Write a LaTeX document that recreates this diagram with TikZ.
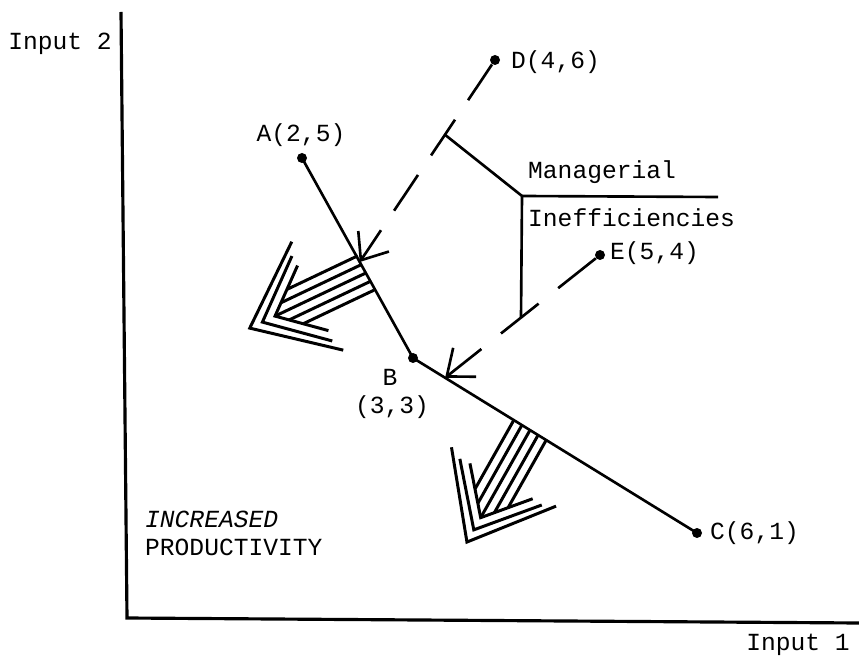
\documentclass[tikz,border=0pt]{standalone}
\usepackage{fontspec}
\setmainfont{Liberation Mono}
\usetikzlibrary{arrows.meta, calc}

\begin{document}
\begin{tikzpicture}[
    every node/.style={font=\fontsize{14}{16}\selectfont},
    axis/.style={line width=1.8pt},
    curve/.style={line width=1.5pt},
    dot/.style={circle, fill, inner sep=0pt, minimum size=0.2cm},
    ineff/.style={line width=1.5pt, -{Straight Barb[length=13pt, width=21pt]}},
]
% Canvas: x in [0, 17.18], y in [0, 13.16]
\useasboundingbox (0,0) rectangle (17.18,13.16);

% --- Axes ---
\draw[axis] (2.42,12.92) -- (2.54,0.80) -- (17.18,0.70);
\node (in2) at (1.20,12.28) {Input 2};
\node (in1) at (15.96,0.26) {Input 1};

% --- Firms ---
\node[dot] (A) at (6.04,10.00) {};
\node[dot] (B) at (8.26,6.00) {};
\node[dot] (C) at (13.94,2.50) {};
\node[dot] (D) at (9.90,11.96) {};
\node[dot] (E) at (12.00,8.06) {};

\node (labA) at (6.02,10.46) {A(2,5)};
\node (labB) at (7.80,5.62) {B};
\node (labB2) at (7.84,5.02) {(3,3)};
\node[anchor=west] (labC) at (14.08,2.50) {C(6,1)};
\node[anchor=west] (labD) at (10.10,11.92) {D(4,6)};
\node[anchor=west] (labE) at (12.08,8.10) {E(5,4)};

% --- Frontier ---
\draw[curve] (A.center) -- (B.center) -- (C.center);

% --- Inefficient firms projected onto the frontier ---
\coordinate (tD) at ($(A)!0.52!(B)$);
\coordinate (tE) at ($(B)!0.113!(C)$);
\draw[ineff, dash pattern=on 0.86cm off 0.47cm] (D) -- (tD);
\draw[ineff, dash pattern=on 0.96cm off 0.50cm] (E) -- (tE);

% --- Bracket + label ---
\coordinate (bD) at ($(D)!0.37!(tD)$);
\coordinate (bE) at ($(E)!0.51!(tE)$);
\coordinate (mJ) at (10.44,9.24);
\coordinate (mR) at (14.36,9.22);
\draw[curve] (bD) -- (mJ) -- (bE);
\draw[curve] (mJ) -- (mR);
\node[anchor=west] (mgr) at (10.44,9.72) {Managerial};
\node[anchor=west] (ineffl) at (10.44,8.80) {Inefficiencies};

% --- Hatched arrows (productivity gain) ---
\coordinate (hA) at ($(A)!0.575!(B)$);
\coordinate (hB) at ($(B)!0.412!(C)$);
\foreach \base/\ang in {hA/205.4, hB/240.6} {
    \begin{scope}[shift={(\base)}, rotate=\ang, line width=1.7pt]
        \foreach \o in {-0.38,-0.19,0,0.19,0.38}
            \draw (0,\o) -- ({2.01-1.17*abs(\o)},\o);
        \foreach \v/\b/\w in {2.57/1.50/1.20, 2.29/1.10/0.94, 2.01/0.84/0.72}
            \draw ({\v-\b},\w) -- (\v,0) -- ({\v-\b},-\w);
    \end{scope}
}

\node[anchor=west, font=\fontsize{14}{16}\selectfont\itshape] (inc) at (2.78,2.78) {INCREASED};
\node[anchor=west] (prod) at (2.78,2.22) {PRODUCTIVITY};

\end{tikzpicture}
\end{document}
